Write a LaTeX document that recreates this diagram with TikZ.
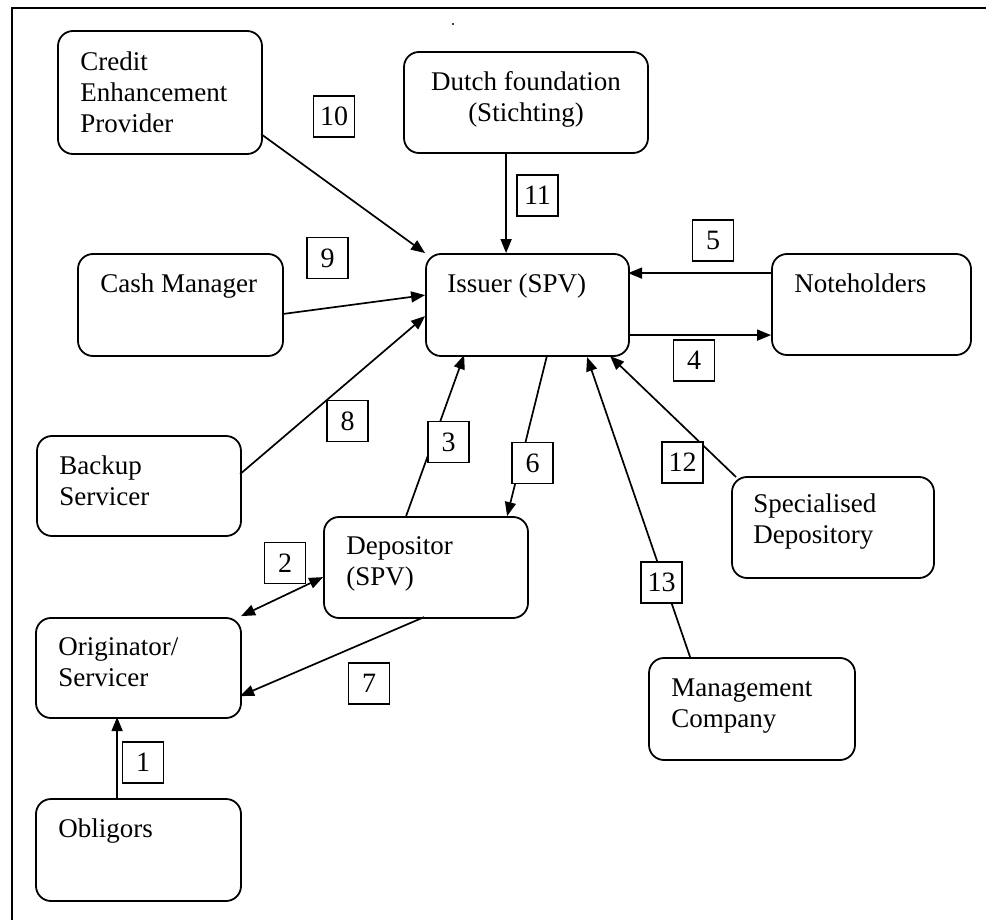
\documentclass[tikz,border=0pt]{standalone}
\usepackage{fontspec}
\setmainfont{Liberation Serif}
\usetikzlibrary{arrows.meta,calc}
\tikzset{
  entity/.style={draw, line width=1.8pt, rounded corners=15pt, minimum width=#1, inner sep=0pt, fill=white},
  lbl/.style={anchor=base west, inner sep=0pt, font=\fontsize{27}{31}\selectfont},
  numbox/.style={draw, line width=1.5pt, fill=white, minimum width=41pt, minimum height=41pt, inner sep=0pt, font=\fontsize{28}{30}\selectfont},
  flow/.style={line width=1.7pt, -{Triangle[length=14pt,width=11pt]}},
  biflow/.style={line width=1.7pt, {Triangle[length=14pt,width=11pt]}-{Triangle[length=14pt,width=11pt]}}
}
\newcommand{\lefttext}[1]{\parbox[t]{200pt}{\raggedright #1}}
\begin{document}
\begin{tikzpicture}[x=1pt,y=-1pt]
\useasboundingbox (0,0) rectangle (986,920);
% frame
\draw[line width=2pt] (986,8) -- (12,8) -- (12,920);
\fill (453,24) circle (1.2pt);

% entities
\node[entity=204pt, minimum height=123pt] (cep) at (160,92.5) {};
\node[entity=244pt, minimum height=101pt] (dutch) at (526,102.5) {};
\node[entity=205pt, minimum height=102pt] (cash) at (180.5,305) {};
\node[entity=203pt, minimum height=102pt] (issuer) at (527.5,305) {};
\node[entity=199pt, minimum height=101pt] (note) at (871.5,304.5) {};
\node[entity=204pt, minimum height=100pt] (backup) at (139,486) {};
\node[entity=204pt, minimum height=101pt] (dep) at (426,567.5) {};
\node[entity=202pt, minimum height=101pt] (spec) at (833,527.5) {};
\node[entity=205pt, minimum height=100pt] (orig) at (138.5,668) {};
\node[entity=205pt, minimum height=102pt] (oblig) at (138.5,850) {};
\node[entity=206pt, minimum height=102pt] (mgmt) at (752,709) {};

% texts
\node[lbl] (tcep) at ($(cep.north west)+(23,40)$) {\lefttext{Credit\\Enhancement\\Provider}};
\node[lbl, anchor=base] (tdutch) at ($(dutch.north)+(0,39)$) {\parbox[t]{240pt}{\centering Dutch foundation\\(Stichting)}};
\node[lbl] (tcash) at ($(cash.north west)+(23,39)$) {\lefttext{Cash Manager}};
\node[lbl] (tissuer) at ($(issuer.north west)+(22,39)$) {\lefttext{Issuer (SPV)}};
\node[lbl] (tnote) at ($(note.north west)+(23,39)$) {\lefttext{Noteholders}};
\node[lbl] (tbackup) at ($(backup.north west)+(23,39)$) {\lefttext{Backup\\Servicer}};
\node[lbl] (tdep) at ($(dep.north west)+(23,38)$) {\lefttext{Depositor\\(SPV)}};
\node[lbl] (tspec) at ($(spec.north west)+(22,36)$) {\lefttext{Specialised\\Depository}};
\node[lbl] (torig) at ($(orig.north west)+(23,38)$) {\lefttext{Originator/\\Servicer}};
\node[lbl] (toblig) at ($(oblig.north west)+(23,39)$) {\lefttext{Obligors}};
\node[lbl] (tmgmt) at ($(mgmt.north west)+(23,39)$) {\lefttext{Management\\Company}};

% connectors
\draw[flow] ($(cep.north west)+(204,104)$) -- (issuer.north west);
\draw[flow] ($(dutch.north west)+(103,101)$) -- ($(issuer.north west)+(81,0)$);
\draw[flow] ($(cash.north west)+(205,61)$) -- ($(issuer.north west)+(0,42)$);
\draw[flow] ($(backup.north west)+(204,39)$) -- ($(issuer.north west)+(0,63)$);
\draw[flow] ($(dep.north west)+(83,0)$) -- ($(issuer.north west)+(39,102)$);
\draw[flow] ($(issuer.north west)+(122,102)$) -- ($(dep.north west)+(184,0)$);
\draw[flow] ($(note.north west)+(0,20)$) -- ($(issuer.north west)+(203,20)$);
\draw[flow] ($(issuer.north west)+(203,82)$) -- ($(note.north west)+(0,82)$);
\draw[flow] ($(spec.north west)+(5,1)$) -- ($(issuer.north west)+(185,103)$);
\draw[flow] ($(mgmt.north west)+(42,0)$) -- ($(issuer.north west)+(162,104)$);
\draw[biflow] ($(dep.north west)+(0,61)$) -- ($(orig.north west)+(206,-1)$);
\draw[flow] ($(dep.north west)+(101,101)$) -- ($(orig.north west)+(205,79)$);
\draw[flow] ($(oblig.north west)+(82,0)$) -- ($(orig.north west)+(82,100)$);

% step numbers
\node[numbox] (n10) at (334,116.5) {10};
\node[numbox] (n11) at (537.5,195.5) {11};
\node[numbox] (n5) at (713,240.5) {5};
\node[numbox] (n9) at (327.5,258) {9};
\node[numbox] (n8) at (347.5,421) {8};
\node[numbox] (n3) at (448.5,442) {3};
\node[numbox] (n4) at (694,360.5) {4};
\node[numbox] (n6) at (532.5,463) {6};
\node[numbox] (n12) at (682.5,462.5) {12};
\node[numbox] (n2) at (285,563) {2};
\node[numbox] (n7) at (369,683.5) {7};
\node[numbox] (n1) at (143,762.5) {1};
\node[numbox] (n13) at (661.5,582.5) {13};
\end{tikzpicture}
\end{document}
